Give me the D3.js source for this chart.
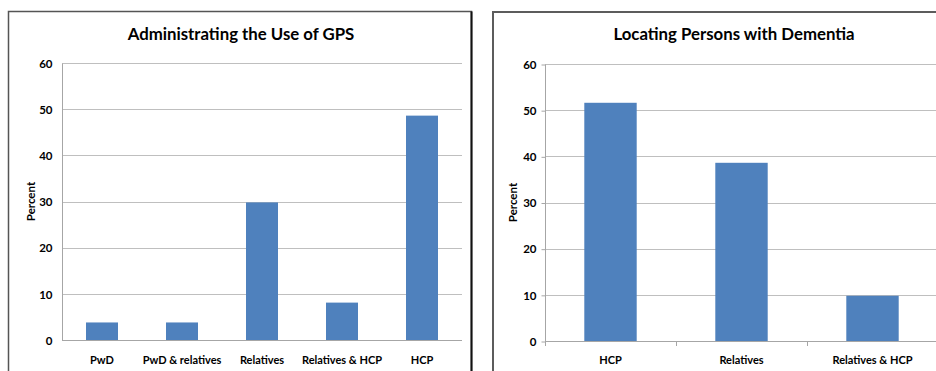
<!DOCTYPE html>
<html>
<head>
<meta charset="utf-8">
<script src="https://cdn.jsdelivr.net/npm/d3@7"></script>
<style>
  html, body { margin: 0; padding: 0; background: #fff; }
  svg { display: block; }
  text { font-family: Lato, "Open Sans", sans-serif; fill: #000; }
</style>
</head>
<body>
<svg id="chart" width="936" height="371"></svg>
<script>
// Who administers the GPS (percent of respondents)
const gpsCategories = ["PwD", "PwD & relatives", "Relatives", "Relatives & HCP", "HCP"];
const gpsValues = [3.8, 3.8, 29.8, 8.1, 48.6];

// Who locates the person with dementia (percent of respondents)
const locCategories = ["HCP", "Relatives", "Relatives & HCP"];
const locValues = [51.6, 38.6, 9.8];

const yTicks = [0, 10, 20, 30, 40, 50, 60];
const yMax = 60;

const svg = d3.select("#chart");
const BAR = "#4f81bd";
const GRID = "#bfbfbf";
const AXIS = "#a6a6a6";

function panel(opts) {
  const g = svg.append("g");

  // chart frame
  g.append("rect")
    .attr("x", opts.frame.x).attr("y", opts.frame.y)
    .attr("width", opts.frame.w).attr("height", opts.frame.h)
    .attr("fill", "#fff")
    .attr("stroke", opts.frame.stroke)
    .attr("stroke-width", opts.frame.sw);
  if (opts.frame.rightStroke) {
    g.append("line")
      .attr("x1", opts.frame.x + opts.frame.w).attr("x2", opts.frame.x + opts.frame.w)
      .attr("y1", opts.frame.y).attr("y2", opts.frame.y + opts.frame.h)
      .attr("stroke", opts.frame.rightStroke).attr("stroke-width", 2);
  }

  const x = d3.scaleBand()
    .domain(opts.categories)
    .range([opts.left, opts.right])
    .paddingInner(0.6)
    .paddingOuter(0.3);
  const y = d3.scaleLinear().domain([0, yMax]).range([opts.bottom, opts.top]);

  // horizontal gridlines
  g.append("g").selectAll("line").data(yTicks.filter(t => t > 0)).join("line")
    .attr("x1", opts.left).attr("x2", opts.right)
    .attr("y1", d => Math.round(y(d)) + 0.5).attr("y2", d => Math.round(y(d)) + 0.5)
    .attr("stroke", GRID).attr("stroke-width", 1);

  // bars
  g.append("g").selectAll("rect").data(opts.values).join("rect")
    .attr("x", (d, i) => x(opts.categories[i]))
    .attr("width", x.bandwidth())
    .attr("y", d => y(d))
    .attr("height", d => y(0) - y(d))
    .attr("fill", BAR);

  // y axis
  const yAxis = d3.axisLeft(y).tickValues(yTicks).tickSize(opts.tick).tickPadding(opts.tickPad);
  const ya = g.append("g")
    .attr("transform", `translate(${opts.left + 0.5},0.5)`)
    .call(yAxis);
  ya.select(".domain").attr("stroke", AXIS).attr("d", `M0,${opts.top}V${opts.bottom}`);
  ya.selectAll(".tick line").attr("stroke", AXIS);
  ya.selectAll(".tick text")
    .attr("font-size", 11.5).attr("font-weight", 700)
    .attr("font-family", "Lato, sans-serif").attr("fill", "#000");

  // x axis baseline
  g.append("line")
    .attr("x1", opts.left).attr("x2", opts.right)
    .attr("y1", Math.round(y(0)) + 0.5).attr("y2", Math.round(y(0)) + 0.5)
    .attr("stroke", AXIS);

  // category boundary ticks
  if (opts.xTicks) {
    const step = x.step();
    g.append("g").selectAll("line").data(d3.range(opts.categories.length + 1)).join("line")
      .attr("x1", i => Math.round(opts.left + i * step) + 0.5)
      .attr("x2", i => Math.round(opts.left + i * step) + 0.5)
      .attr("y1", y(0)).attr("y2", y(0) + 5)
      .attr("stroke", AXIS);
  }

  // category labels
  g.append("g").selectAll("text").data(opts.categories).join("text")
    .attr("x", d => x(d) + x.bandwidth() / 2)
    .attr("y", opts.labelY)
    .attr("text-anchor", "middle")
    .attr("font-size", 11).attr("font-weight", 700)
    .text(d => d);

  // y axis title
  g.append("text")
    .attr("transform", `translate(${opts.yTitleX},${(opts.top + opts.bottom) / 2}) rotate(-90)`)
    .attr("text-anchor", "middle")
    .attr("font-size", 11.5).attr("font-weight", 700)
    .text("Percent");

  // chart title
  g.append("text")
    .attr("x", opts.titleX).attr("y", 40)
    .attr("text-anchor", "middle")
    .attr("font-size", 16.8).attr("font-weight", 700)
    .text(opts.title);
}

panel({
  frame: { x: 8.5, y: 11.5, w: 463, h: 400, stroke: "#555", sw: 1.5, rightStroke: "#111" },
  categories: gpsCategories,
  values: gpsValues,
  left: 62, right: 462, top: 63, bottom: 340,
  tick: 0, tickPad: 10,
  xTicks: false,
  labelY: 364,
  yTitleX: 35,
  titleX: 241,
  title: "Administrating the Use of GPS"
});

panel({
  frame: { x: 493, y: 12, w: 500, h: 400, stroke: "#5c5c5c", sw: 2 },
  categories: locCategories,
  values: locValues,
  left: 545, right: 938, top: 64, bottom: 341,
  tick: 4, tickPad: 5,
  xTicks: true,
  labelY: 364,
  yTitleX: 517,
  titleX: 734,
  title: "Locating Persons with Dementia"
});
</script>
</body>
</html>
